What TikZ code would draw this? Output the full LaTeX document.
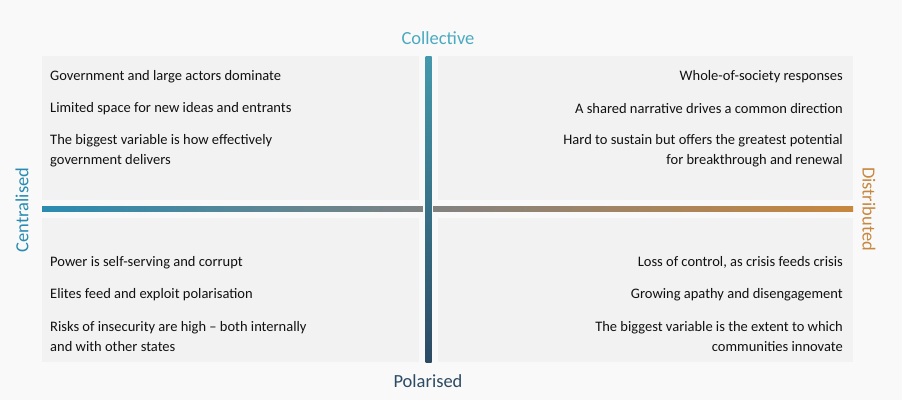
\documentclass[tikz,border=0pt]{standalone}
\usepackage{fontspec}
\setmainfont{Carlito}
\definecolor{pagebg}{HTML}{F9F9F9}
\definecolor{panelbg}{HTML}{F2F2F2}
\definecolor{collcol}{HTML}{4BAABF}
\definecolor{polcol}{HTML}{2C4A63}
\definecolor{centcol}{HTML}{2A8BB0}
\definecolor{distcol}{HTML}{C8873E}
\definecolor{midgrey}{HTML}{85827E}
\definecolor{itemcol}{HTML}{111111}
\tikzset{
  panel/.style={fill=panelbg, draw=none},
  item/.style={inner sep=0pt, text=itemcol, font=\fontsize{14.5}{20}\selectfont},
  leftitem/.style={item, anchor=west, align=left},
  rightitem/.style={item, anchor=east, align=right},
  axislabel/.style={inner sep=0pt, font=\fontsize{18.5}{20}\selectfont}
}
\begin{document}
\begin{tikzpicture}[x=1pt, y=-1pt]

% Background
\fill[pagebg] (0,0) rectangle (902,400);
\useasboundingbox (0,0) rectangle (902,400);

% Quadrant panels
\fill[panel] (42,56) rectangle (419,200);
\fill[panel] (438,56) rectangle (853,200);
\fill[panel] (42,218) rectangle (419,362);
\fill[panel] (438,218) rectangle (853,362);

% Axes
\shade[left color=centcol, right color=distcol, middle color=midgrey] (42,206) rectangle (853,211.5);
\fill[pagebg] (423,205) rectangle (433,213);
\shade[top color=collcol!90!black, bottom color=polcol] (425.5,56) rectangle (431.5,362);

% Axis labels
\node[axislabel, text=collcol] (coll) at (438,38) {Collective};
\node[axislabel, text=polcol] (pol) at (428,381) {Polarised};
\node[axislabel, text=centcol, rotate=90] (cent) at (22,210) {Centralised};
\node[axislabel, text=distcol, rotate=-90] (dist) at (869,209) {Distributed};

% Top left
\node[leftitem] (tl1) at (50,76.5) {Government and large actors dominate};
\node[leftitem] (tl2) at (50,108.5) {Limited space for new ideas and entrants};
\node[leftitem] (tl3) at (50,150.5) {The biggest variable is how effectively\\government delivers};

% Top right
\node[rightitem] (tr1) at (843,76.5) {Whole-of-society responses};
\node[rightitem] (tr2) at (843,108.5) {A shared narrative drives a common direction};
\node[rightitem] (tr3) at (843,150.5) {Hard to sustain but offers the greatest potential\\for breakthrough and renewal};

% Bottom left
\node[leftitem] (bl1) at (50,262.5) {Power is self-serving and corrupt};
\node[leftitem] (bl2) at (50,294.5) {Elites feed and exploit polarisation};
\node[leftitem] (bl3) at (50,336.5) {Risks of insecurity are high -- both internally\\and with other states};

% Bottom right
\node[rightitem] (br1) at (843,262.5) {Loss of control, as crisis feeds crisis};
\node[rightitem] (br2) at (843,294.5) {Growing apathy and disengagement};
\node[rightitem] (br3) at (843,336.5) {The biggest variable is the extent to which\\communities innovate};

\end{tikzpicture}
\end{document}
